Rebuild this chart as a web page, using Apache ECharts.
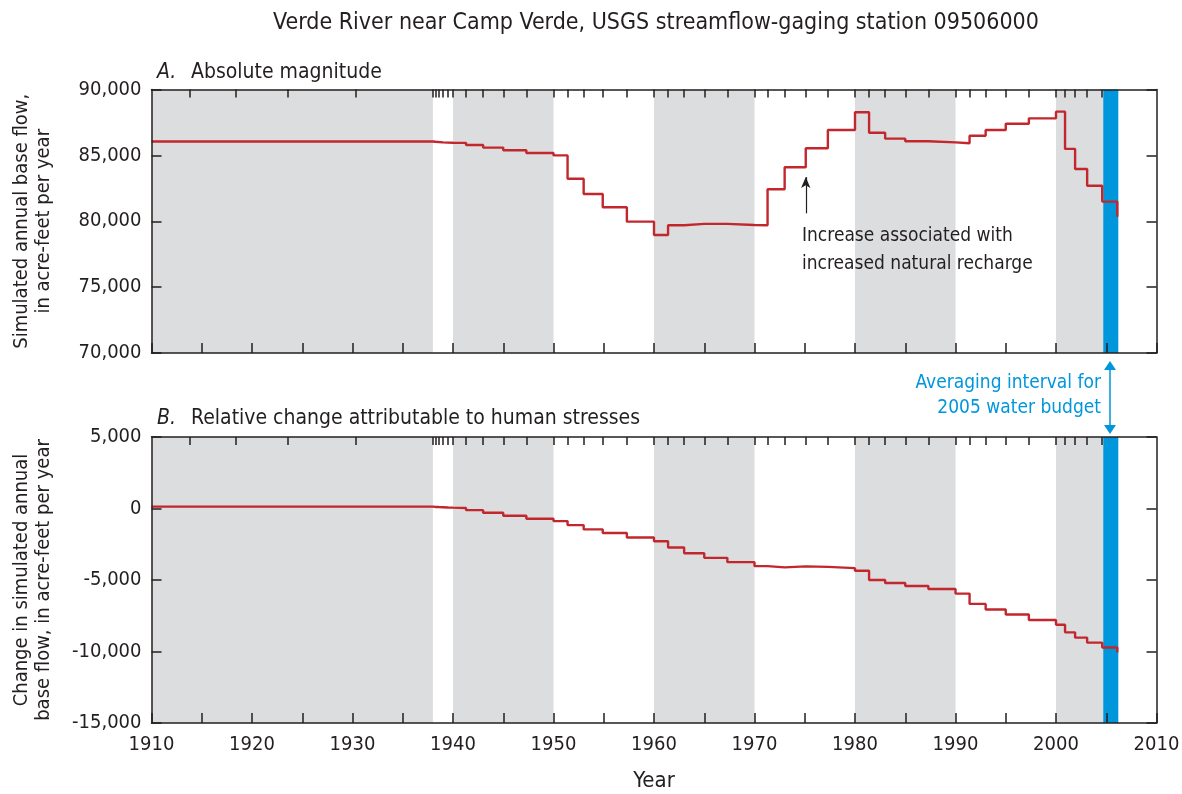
<!DOCTYPE html>
<html>
<head>
<meta charset="utf-8">
<script src="https://cdn.jsdelivr.net/npm/echarts@6/dist/echarts.min.js"></script>
<style>
  html, body { margin: 0; padding: 0; background: #fff; }
  #chart { width: 1182px; height: 794px; }
</style>
</head>
<body>
<div id="chart"></div>
<script>
// stress-period start years (last entry = end of simulation)
var stepYears = [1910, 1913.8, 1918.4, 1923.6, 1930.3, 1938, 1938.25, 1938.6, 1939, 1939.5,
  1940, 1941.3, 1943, 1945, 1947.3, 1950, 1951.4, 1953, 1954.9, 1957.3,
  1960, 1961.4, 1963, 1965, 1967.3, 1970, 1971.3, 1973, 1975.1, 1977.3,
  1980, 1981.4, 1983, 1985, 1987.3, 1990, 1991.4, 1993, 1995, 1997.3,
  2000, 2000.9, 2001.9, 2003.1, 2004.6, 2006.1]
// A. simulated annual base flow, acre-feet per year
var baseFlow = [86050, 86050, 86050, 86050, 86050, 86030, 86010, 85990, 85970, 85960,
  85950, 85790, 85590, 85390, 85180, 85000, 83230, 82070, 81060, 79970,
  78960, 79700, 79800, 79800, 79720, 79700, 82430, 84100, 85540, 86930,
  88270, 86720, 86270, 86070, 85990, 85920, 86490, 86930, 87400, 87810,
  88320, 85490, 83970, 82700, 81490, 80350]
// B. change attributable to human stresses, acre-feet per year
var humanChange = [130, 130, 130, 130, 130, 110, 100, 90, 70, 60,
  40, -115, -300, -510, -720, -880, -1160, -1460, -1710, -2030,
  -2290, -2730, -3130, -3450, -3750, -4030, -4120, -4050, -4080, -4170,
  -4350, -5000, -5210, -5420, -5630, -5950, -6670, -7060, -7410, -7800,
  -8130, -8660, -9030, -9380, -9720, -10070]
var grayBands = [[1910, 1938], [1940, 1950], [1960, 1970], [1980, 1990], [2000, 2004.7]]
var budgetInterval = [2004.7, 2006.2]
var yearTicks = [1910, 1920, 1930, 1940, 1950, 1960, 1970, 1980, 1990, 2000, 2010]

var FONT = '"Liberation Sans Narrow", "DejaVu Sans Condensed", sans-serif'
var INK = '#231f20'
var RED = '#c1272d'
var BLUE = '#0096db'
var GRAY = '#dcdddf'

var myChart = echarts.init(document.getElementById('chart'))

function pairs(vals) {
  return stepYears.map(function (y, i) { return [y, vals[i]] })
}

function bands() {
  var out = grayBands.map(function (b) {
    return [{ xAxis: b[0], itemStyle: { color: GRAY } }, { xAxis: b[1] }]
  })
  out.push([{ xAxis: budgetInterval[0], itemStyle: { color: BLUE } }, { xAxis: budgetInterval[1] }])
  return out
}

function fmt(v) {
  return v.toLocaleString('en-US')
}

// shared axis pieces
function xBottom(grid, showLabels) {
  return {
    type: 'value', gridIndex: grid, min: 1910, max: 2010, interval: 5, z: 5,
    axisLine: { onZero: false, lineStyle: { color: INK, width: 1.5 } },
    axisTick: { inside: true, length: 10, lineStyle: { color: INK, width: 1.5 } },
    splitLine: { show: false },
    axisLabel: showLabels ? {
      color: INK, fontFamily: FONT, fontSize: 20, margin: 12,
      customValues: yearTicks, formatter: function (v) { return String(v) }
    } : { show: false },
    name: showLabels ? 'Year' : '',
    nameLocation: 'middle', nameGap: 47,
    nameTextStyle: { color: INK, fontFamily: FONT, fontSize: 22 }
  }
}
function xTop(grid) {
  return {
    type: 'value', gridIndex: grid, position: 'top', min: 1910, max: 2010, z: 5,
    axisLine: { onZero: false, lineStyle: { color: INK, width: 1.5 } },
    axisTick: { inside: true, length: 8, customValues: stepYears.slice(1, -1), lineStyle: { color: INK, width: 1.5 } },
    axisLabel: { show: false },
    splitLine: { show: false }
  }
}
function yLeft(grid, min, max, name) {
  return {
    type: 'value', gridIndex: grid, min: min, max: max, interval: 5000, z: 5,
    axisLine: { show: true, onZero: false, lineStyle: { color: INK, width: 1.5 } },
    axisTick: { show: true, inside: true, length: 10, lineStyle: { color: INK, width: 1.5 } },
    splitLine: { show: false },
    axisLabel: { color: INK, fontFamily: FONT, fontSize: 20, margin: 10, formatter: fmt },
    name: name, nameLocation: 'middle', nameGap: 97, nameRotate: 90,
    nameTextStyle: { color: INK, fontFamily: FONT, fontSize: 20, lineHeight: 22 }
  }
}
function yRight(grid, min, max) {
  return {
    type: 'value', gridIndex: grid, position: 'right', min: min, max: max, interval: 5000, z: 5,
    axisLine: { show: true, onZero: false, lineStyle: { color: INK, width: 1.5 } },
    axisTick: { show: true, inside: true, length: 10, lineStyle: { color: INK, width: 1.5 } },
    splitLine: { show: false },
    axisLabel: { show: false }
  }
}

function txt(extra) {
  return Object.assign({ fontFamily: FONT, fill: INK, fontSize: 21 }, extra)
}

var option = {
  animation: false,
  backgroundColor: '#fff',
  grid: [
    { left: 151.5, right: 25.5, top: 89.5, height: 263.5, outerBoundsMode: 'none', containLabel: false },
    { left: 151.5, right: 25.5, top: 437, height: 286, outerBoundsMode: 'none', containLabel: false }
  ],
  xAxis: [xBottom(0, false), xTop(0), xBottom(1, true), xTop(1)],
  yAxis: [
    yLeft(0, 70000, 90000, 'Simulated annual base flow,\nin acre-feet per year'),
    yRight(0, 70000, 90000),
    yLeft(1, -15000, 5000, 'Change in simulated annual\nbase flow, in acre-feet per year'),
    yRight(1, -15000, 5000)
  ],
  series: [
    {
      name: 'Absolute magnitude',
      type: 'line', xAxisIndex: 0, yAxisIndex: 0, step: 'end',
      symbol: 'none', data: pairs(baseFlow),
      lineStyle: { color: RED, width: 2.4 },
      markArea: { silent: true, data: bands() },
      markLine: {
        silent: true, symbol: ['none', 'arrow'], symbolSize: [7, 11],
        label: { show: false },
        lineStyle: { color: INK, width: 1.2, type: 'solid' },
        data: [[{ coord: [1975.1, 80600] }, { coord: [1975.1, 83350] }]]
      }
    },
    {
      name: 'Relative change',
      type: 'line', xAxisIndex: 2, yAxisIndex: 2, step: 'end',
      symbol: 'none', data: pairs(humanChange),
      lineStyle: { color: RED, width: 2.4 },
      markArea: { silent: true, data: bands() }
    }
  ],
  graphic: [
    { type: 'text', z: 100, x: 656, y: 12, style: txt({ text: 'Verde River near Camp Verde, USGS streamflow-gaging station 09506000', fontSize: 23, align: 'center' }) },
    { type: 'text', z: 100, x: 157, y: 62, style: txt({ text: 'A.', fontStyle: 'italic' }) },
    { type: 'text', z: 100, x: 191, y: 62, style: txt({ text: 'Absolute magnitude' }) },
    { type: 'text', z: 100, x: 157, y: 408, style: txt({ text: 'B.', fontStyle: 'italic' }) },
    { type: 'text', z: 100, x: 191, y: 408, style: txt({ text: 'Relative change attributable to human stresses' }) },
    { type: 'text', z: 100, x: 802, y: 222, style: txt({ text: 'Increase associated with\nincreased natural recharge', fontSize: 19, lineHeight: 28 }) },
    { type: 'text', z: 100, x: 1101, y: 371, style: txt({ text: 'Averaging interval for\n2005 water budget', fill: BLUE, fontSize: 19, lineHeight: 25, align: 'right' }) },
    { type: 'line', z: 100, shape: { x1: 1110, y1: 364, x2: 1110, y2: 430 }, style: { stroke: BLUE, lineWidth: 1.5 } },
    { type: 'polygon', z: 100, shape: { points: [[1110, 361], [1104, 370], [1116, 370]] }, style: { fill: BLUE } },
    { type: 'polygon', z: 100, shape: { points: [[1110, 434], [1104, 425], [1116, 425]] }, style: { fill: BLUE } }
  ]
}

myChart.setOption(option)
</script>
</body>
</html>
